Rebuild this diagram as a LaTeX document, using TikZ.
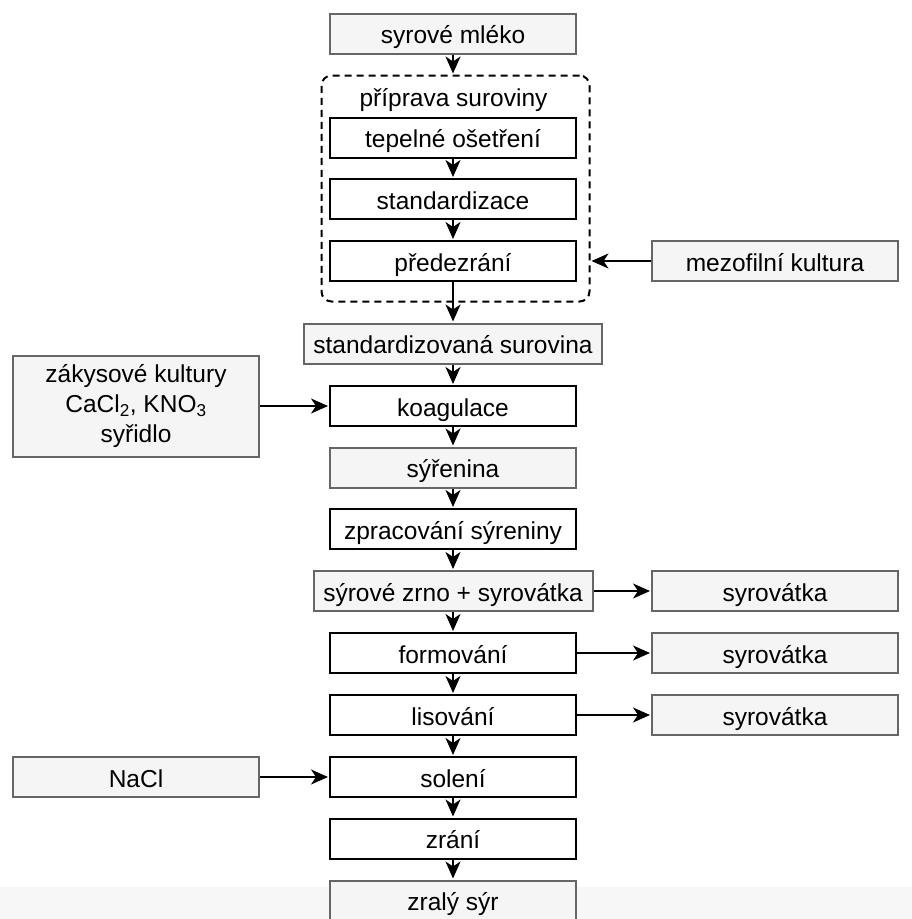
\documentclass[tikz,border=0pt]{standalone}
\usepackage{fontspec}
\setmainfont{Liberation Sans}
\usetikzlibrary{arrows.meta}
\definecolor{boxgray}{HTML}{F5F5F5}
\definecolor{edgegray}{HTML}{666666}
\definecolor{bandgray}{HTML}{F7F7F7}
\begin{document}
\begin{tikzpicture}[x=1pt,y=-1pt,
  basebox/.style={rectangle, inner sep=0pt, line width=2pt, font=\fontsize{24.5}{29}\selectfont, text height=22pt, text depth=2pt, minimum height=40pt},
  whitebox/.style={basebox, draw=black, fill=white, minimum width=246pt},
  graybox/.style={basebox, draw=edgegray, fill=boxgray},
  arr/.style={line width=2pt, shorten >=1pt, -{Stealth[length=17pt,width=15pt,inset=5pt]}}]
\useasboundingbox (0,0) rectangle (912,919);
\clip (0,0) rectangle (912,919);
\fill[bandgray] (0,887) rectangle (912,919);

\node[graybox, minimum width=246pt] (mleko) at (453,33.5) {syrové mléko};
\node[draw, dashed, dash pattern=on 7pt off 5pt, line width=2pt, rounded corners=10pt,
      minimum width=268pt, minimum height=226pt, inner sep=0pt] (prep) at (455.5,188.5) {};
\node[anchor=base, inner sep=0pt, font=\fontsize{24.5}{29}\selectfont] (preplabel) at (453.5,106) {příprava suroviny};
\node[whitebox] (tepel) at (453,137.5) {tepelné ošetření};
\node[whitebox] (stand) at (453,199) {standardizace};
\node[whitebox] (pred) at (453,261) {předezrání};
\node[graybox, minimum width=246pt] (mezo) at (775,261) {mezofilní kultura};
\node[graybox, minimum width=298pt] (stdsur) at (453,343.5) {standardizovaná surovina};
\node[rectangle, inner sep=0pt, line width=2pt, draw=edgegray, fill=boxgray,
      minimum width=246pt, minimum height=101pt, align=center,
      font=\fontsize{24.5}{30}\selectfont] (zakys) at (136,406)
      {zákysové kultury\\CaCl\textsubscript{2}, KNO\textsubscript{3}\\syřidlo};
\node[whitebox] (koag) at (453,406) {koagulace};
\node[graybox, minimum width=246pt] (syren) at (453,467.5) {sýřenina};
\node[whitebox] (zprac) at (453,529) {zpracování sýreniny};
\node[graybox, minimum width=279pt] (zrno) at (453,591) {sýrové zrno + syrovátka};
\node[graybox, minimum width=246pt] (syra) at (775,591) {syrovátka};
\node[whitebox] (form) at (453,653) {formování};
\node[graybox, minimum width=246pt] (syrb) at (775,653) {syrovátka};
\node[whitebox] (lis) at (453,715) {lisování};
\node[graybox, minimum width=246pt] (syrc) at (775,715) {syrovátka};
\node[graybox, minimum width=246pt] (nacl) at (136,777) {NaCl};
\node[whitebox] (solen) at (453,777) {solení};
\node[whitebox] (zrani) at (453,838.5) {zrání};
\node[graybox, minimum width=246pt] (zraly) at (453,900.5) {zralý sýr};

\draw[arr] (mleko.south) -- (mleko.south |- prep.north);
\draw[arr] (tepel.south) -- (stand.north);
\draw[arr] (stand.south) -- (pred.north);
\draw[arr] (pred.south) -- (stdsur.north);
\draw[arr] (mezo.west) -- (mezo.west -| prep.east);
\draw[arr] (stdsur.south) -- (koag.north);
\draw[arr] (zakys.east) -- (koag.west);
\draw[arr] (koag.south) -- (syren.north);
\draw[arr] (syren.south) -- (zprac.north);
\draw[arr] (zprac.south) -- (zrno.north);
\draw[arr] (zrno.east) -- (syra.west);
\draw[arr] (zrno.south) -- (form.north);
\draw[arr] (form.east) -- (syrb.west);
\draw[arr] (form.south) -- (lis.north);
\draw[arr] (lis.east) -- (syrc.west);
\draw[arr] (lis.south) -- (solen.north);
\draw[arr] (nacl.east) -- (solen.west);
\draw[arr] (solen.south) -- (zrani.north);
\draw[arr] (zrani.south) -- (zraly.north);
\end{tikzpicture}
\end{document}
